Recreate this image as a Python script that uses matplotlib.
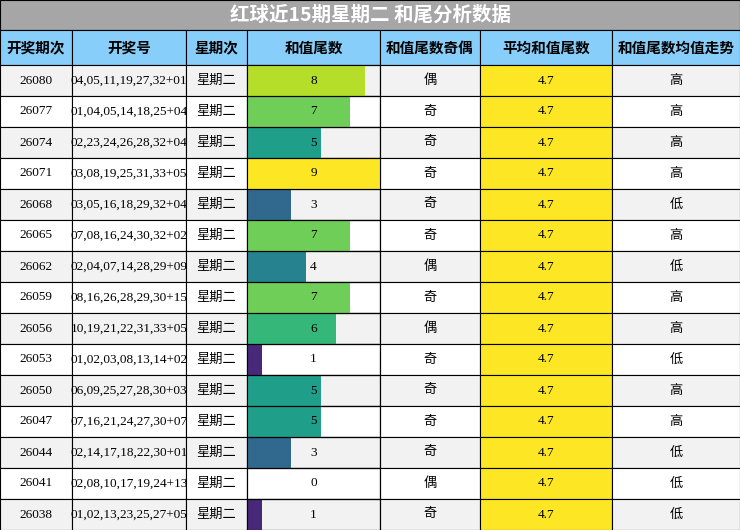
import matplotlib
matplotlib.use("Agg")
import matplotlib.pyplot as plt
from matplotlib.patches import Rectangle
import matplotlib.cm as cm

periods = ["26080","26077","26074","26071","26068","26065","26062","26059","26056","26053","26050","26047","26044","26041","26038"]
numbers = ["04,05,11,19,27,32+01","01,04,05,14,18,25+04","02,23,24,26,28,32+04","03,08,19,25,31,33+05",
           "03,05,16,18,29,32+04","07,08,16,24,30,32+02","02,04,07,14,28,29+09","08,16,26,28,29,30+15",
           "10,19,21,22,31,33+05","01,02,03,08,13,14+02","06,09,25,27,28,30+03","07,16,21,24,27,30+07",
           "02,14,17,18,22,30+01","02,08,10,17,19,24+13","01,02,13,23,25,27+05"]
weekday = "星期二"
tails = [8,7,5,9,3,7,4,7,6,1,5,5,3,0,1]
parity = ["偶","奇","奇","奇","奇","奇","偶","奇","偶","奇","奇","奇","奇","偶","奇"]
avg = 4.7
trend = ["高","高","高","高","低","高","低","高","高","低","高","高","低","低","低"]
headers = ["开奖期次","开奖号","星期次","和值尾数","和值尾数奇偶","平均和值尾数","和值尾数均值走势"]
title = "红球近15期星期二 和尾分析数据"

fam = ["Liberation Serif", "Noto Sans CJK SC"]
cjk = ["Noto Sans CJK SC", "DejaVu Sans"]
cols = [0, 72, 186, 247, 380, 480, 612, 740]
top, hh, rh = 30, 35, 31

fig = plt.figure(figsize=(7.4, 5.3), dpi=100)
ax = fig.add_axes([0, 0, 1, 1])
ax.set_xlim(0, 740); ax.set_ylim(530, 0); ax.axis("off")

ax.add_patch(Rectangle((0, 0), 740, top, facecolor="#a6a6a6", edgecolor="black", lw=0.8))
ax.text(370, top/2, title, ha="center", va="center", color="white", fontsize=14, fontweight="bold", family=cjk)
for i, h in enumerate(headers):
    ax.add_patch(Rectangle((cols[i], top), cols[i+1]-cols[i], hh, facecolor="#87cefa", edgecolor="black", lw=0.8))
    ax.text((cols[i]+cols[i+1])/2, top+hh/2, h, ha="center", va="center", fontsize=10.5, fontweight="bold", family=cjk)

cmap = plt.get_cmap("viridis")
y0 = top + hh
for r in range(len(periods)):
    y = y0 + r*rh
    bg = "#f2f2f2" if r % 2 == 0 else "white"
    for i in range(7):
        fc = "#fde725" if i == 5 else bg
        ax.add_patch(Rectangle((cols[i], y), cols[i+1]-cols[i], rh, facecolor=fc, edgecolor="black", lw=0.8, zorder=1))
    w = cols[4]-cols[3]
    ax.barh(y + rh/2, tails[r]/9*w, left=cols[3], height=rh, color=cmap(tails[r]/9), zorder=2)
    ax.add_patch(Rectangle((cols[3], y), w, rh, facecolor="none", edgecolor="black", lw=0.8, zorder=3))
    vals = [periods[r], numbers[r], weekday, str(tails[r]), parity[r], f"{avg}", trend[r]]
    for i, v in enumerate(vals):
        ax.text((cols[i]+cols[i+1])/2, y+rh/2, v, ha="center", va="center", fontsize=9.5, family=fam, zorder=4)

fig.savefig("out.png", dpi=100)
